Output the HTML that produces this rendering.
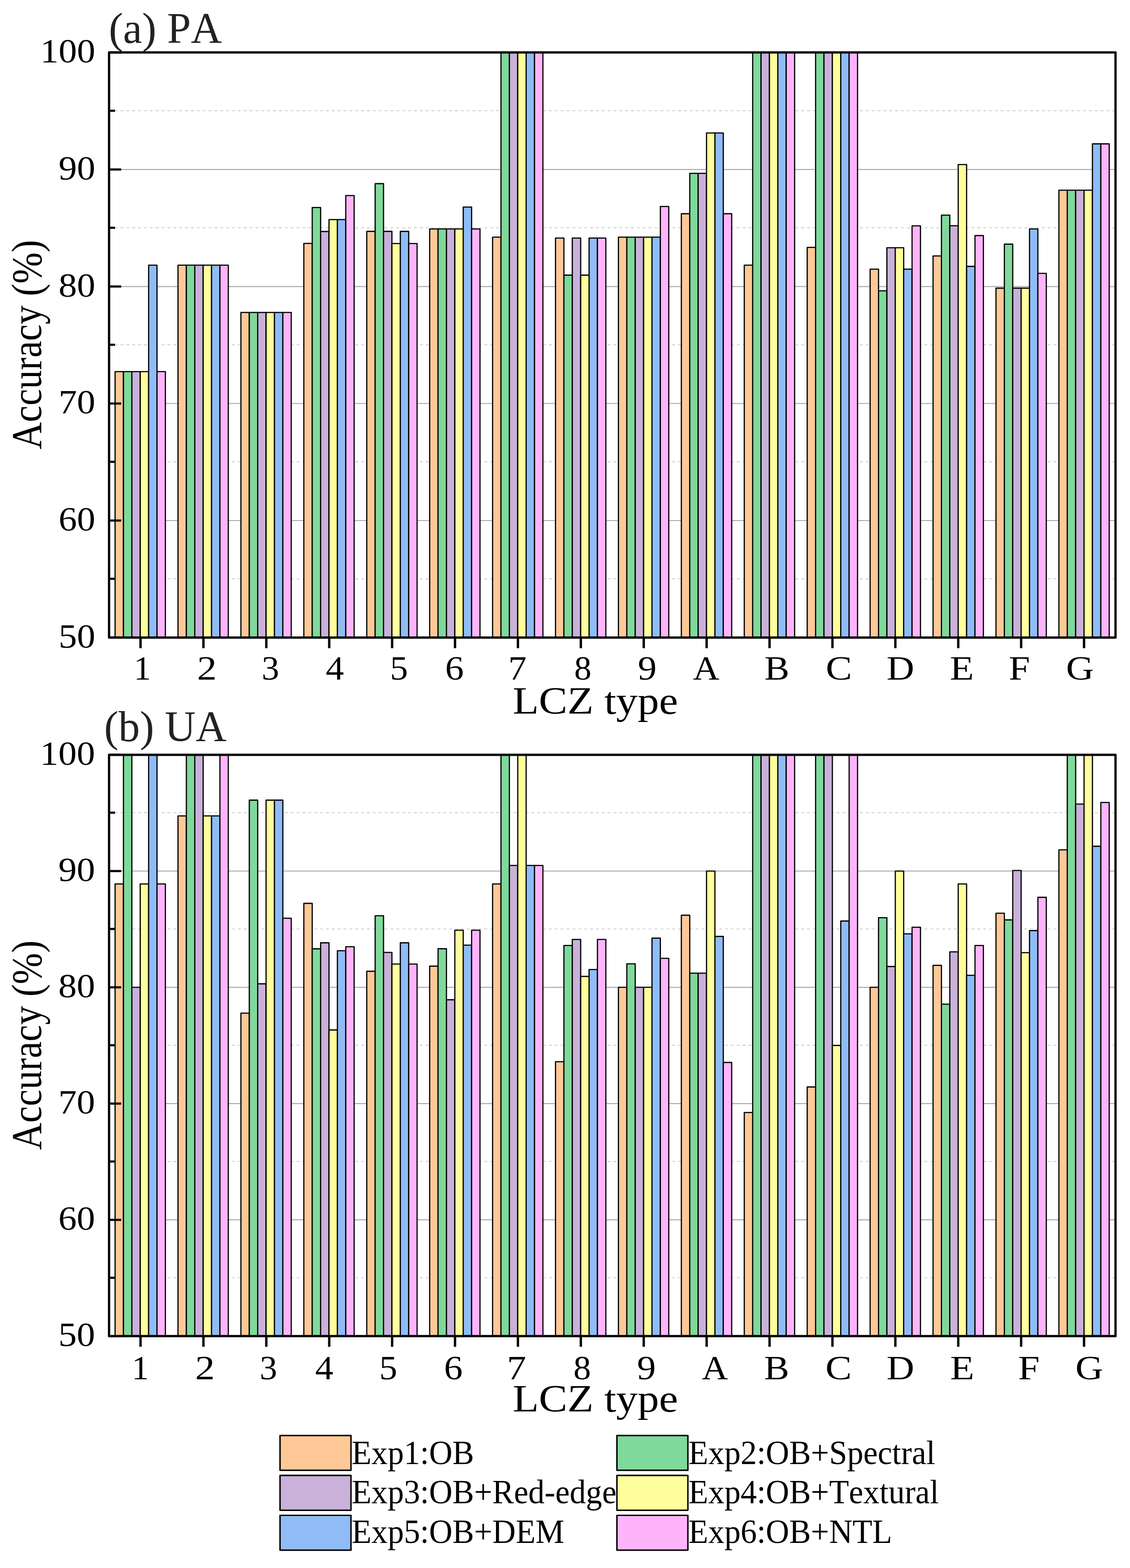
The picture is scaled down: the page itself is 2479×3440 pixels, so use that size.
<!DOCTYPE html>
<html lang="en"><head><meta charset="utf-8"><title>LCZ accuracy</title>
<style>html,body{margin:0;padding:0;background:#fff}body{width:2479px;height:3440px}svg{display:block}text{font-family:"Liberation Serif",serif;white-space:pre;font-kerning:none;font-variant-ligatures:none}</style></head><body>
<svg width="2479" height="3440" viewBox="0 0 2479 3440">
<rect width="2479" height="3440" fill="#fff"/>
<g id="panel-a"><line x1="239.25" x2="2447.2" y1="1141.98" y2="1141.98" stroke="#ababab" stroke-width="2.2"/>
<line x1="239.25" x2="2447.2" y1="885.26" y2="885.26" stroke="#ababab" stroke-width="2.2"/>
<line x1="239.25" x2="2447.2" y1="628.54" y2="628.54" stroke="#ababab" stroke-width="2.2"/>
<line x1="239.25" x2="2447.2" y1="371.82" y2="371.82" stroke="#ababab" stroke-width="2.2"/>
<line x1="238.55" x2="2447.2" y1="1269.84" y2="1269.84" stroke="#d2d2d2" stroke-width="2.2" stroke-dasharray="6.5 6.375"/>
<line x1="238.55" x2="2447.2" y1="1013.12" y2="1013.12" stroke="#d2d2d2" stroke-width="2.2" stroke-dasharray="6.5 6.375"/>
<line x1="238.55" x2="2447.2" y1="756.4" y2="756.4" stroke="#d2d2d2" stroke-width="2.2" stroke-dasharray="6.5 6.375"/>
<line x1="238.55" x2="2447.2" y1="499.68" y2="499.68" stroke="#d2d2d2" stroke-width="2.2" stroke-dasharray="6.5 6.375"/>
<line x1="238.55" x2="2447.2" y1="242.96" y2="242.96" stroke="#d2d2d2" stroke-width="2.2" stroke-dasharray="6.5 6.375"/>
<g stroke="#000" stroke-width="2.6" stroke-linejoin="round">
<rect x="252.45" y="815.18" width="18.4" height="583.52" fill="#fec897"/>
<rect x="270.85" y="815.18" width="18.4" height="583.52" fill="#7fd99b"/>
<rect x="289.25" y="815.18" width="18.4" height="583.52" fill="#c9b1d9"/>
<rect x="307.65" y="815.18" width="18.4" height="583.52" fill="#fffe9c"/>
<rect x="326.05" y="581.82" width="18.4" height="816.88" fill="#8fbcf6"/>
<rect x="344.45" y="815.18" width="18.4" height="583.52" fill="#feb4fb"/>
<rect x="390.49" y="581.82" width="18.4" height="816.88" fill="#fec897"/>
<rect x="408.89" y="581.82" width="18.4" height="816.88" fill="#7fd99b"/>
<rect x="427.29" y="581.82" width="18.4" height="816.88" fill="#c9b1d9"/>
<rect x="445.69" y="581.82" width="18.4" height="816.88" fill="#fffe9c"/>
<rect x="464.08" y="581.82" width="18.4" height="816.88" fill="#8fbcf6"/>
<rect x="482.48" y="581.82" width="18.4" height="816.88" fill="#feb4fb"/>
<rect x="528.52" y="685.53" width="18.4" height="713.17" fill="#fec897"/>
<rect x="546.92" y="685.53" width="18.4" height="713.17" fill="#7fd99b"/>
<rect x="565.32" y="685.53" width="18.4" height="713.17" fill="#c9b1d9"/>
<rect x="583.72" y="685.53" width="18.4" height="713.17" fill="#fffe9c"/>
<rect x="602.12" y="685.53" width="18.4" height="713.17" fill="#8fbcf6"/>
<rect x="620.52" y="685.53" width="18.4" height="713.17" fill="#feb4fb"/>
<rect x="666.56" y="534.07" width="18.4" height="864.63" fill="#fec897"/>
<rect x="684.96" y="455.25" width="18.4" height="943.45" fill="#7fd99b"/>
<rect x="703.36" y="507.88" width="18.4" height="890.82" fill="#c9b1d9"/>
<rect x="721.76" y="481.7" width="18.4" height="917" fill="#fffe9c"/>
<rect x="740.16" y="481.7" width="18.4" height="917" fill="#8fbcf6"/>
<rect x="758.56" y="429.07" width="18.4" height="969.63" fill="#feb4fb"/>
<rect x="804.6" y="507.62" width="18.4" height="891.08" fill="#fec897"/>
<rect x="823" y="402.88" width="18.4" height="995.82" fill="#7fd99b"/>
<rect x="841.4" y="507.62" width="18.4" height="891.08" fill="#c9b1d9"/>
<rect x="859.8" y="534.32" width="18.4" height="864.38" fill="#fffe9c"/>
<rect x="878.2" y="507.62" width="18.4" height="891.08" fill="#8fbcf6"/>
<rect x="896.6" y="534.32" width="18.4" height="864.38" fill="#feb4fb"/>
<rect x="942.63" y="502.23" width="18.4" height="896.47" fill="#fec897"/>
<rect x="961.03" y="502.23" width="18.4" height="896.47" fill="#7fd99b"/>
<rect x="979.43" y="502.23" width="18.4" height="896.47" fill="#c9b1d9"/>
<rect x="997.83" y="502.23" width="18.4" height="896.47" fill="#fffe9c"/>
<rect x="1016.23" y="454.23" width="18.4" height="944.47" fill="#8fbcf6"/>
<rect x="1034.63" y="502.23" width="18.4" height="896.47" fill="#feb4fb"/>
<rect x="1080.67" y="520.2" width="18.4" height="878.5" fill="#fec897"/>
<rect x="1099.07" y="115.1" width="18.4" height="1283.6" fill="#7fd99b"/>
<rect x="1117.47" y="115.1" width="18.4" height="1283.6" fill="#c9b1d9"/>
<rect x="1135.87" y="115.1" width="18.4" height="1283.6" fill="#fffe9c"/>
<rect x="1154.27" y="115.1" width="18.4" height="1283.6" fill="#8fbcf6"/>
<rect x="1172.67" y="115.1" width="18.4" height="1283.6" fill="#feb4fb"/>
<rect x="1218.71" y="522.26" width="18.4" height="876.44" fill="#fec897"/>
<rect x="1237.11" y="603.64" width="18.4" height="795.06" fill="#7fd99b"/>
<rect x="1255.51" y="522.26" width="18.4" height="876.44" fill="#c9b1d9"/>
<rect x="1273.91" y="603.64" width="18.4" height="795.06" fill="#fffe9c"/>
<rect x="1292.31" y="522.26" width="18.4" height="876.44" fill="#8fbcf6"/>
<rect x="1310.71" y="522.26" width="18.4" height="876.44" fill="#feb4fb"/>
<rect x="1356.74" y="520.2" width="18.4" height="878.5" fill="#fec897"/>
<rect x="1375.14" y="520.2" width="18.4" height="878.5" fill="#7fd99b"/>
<rect x="1393.54" y="520.2" width="18.4" height="878.5" fill="#c9b1d9"/>
<rect x="1411.94" y="520.2" width="18.4" height="878.5" fill="#fffe9c"/>
<rect x="1430.34" y="520.2" width="18.4" height="878.5" fill="#8fbcf6"/>
<rect x="1448.74" y="452.94" width="18.4" height="945.76" fill="#feb4fb"/>
<rect x="1494.78" y="468.86" width="18.4" height="929.84" fill="#fec897"/>
<rect x="1513.18" y="380.29" width="18.4" height="1018.41" fill="#7fd99b"/>
<rect x="1531.58" y="380.29" width="18.4" height="1018.41" fill="#c9b1d9"/>
<rect x="1549.98" y="291.72" width="18.4" height="1106.98" fill="#fffe9c"/>
<rect x="1568.38" y="291.72" width="18.4" height="1106.98" fill="#8fbcf6"/>
<rect x="1586.78" y="468.86" width="18.4" height="929.84" fill="#feb4fb"/>
<rect x="1632.82" y="581.82" width="18.4" height="816.88" fill="#fec897"/>
<rect x="1651.22" y="115.1" width="18.4" height="1283.6" fill="#7fd99b"/>
<rect x="1669.62" y="115.1" width="18.4" height="1283.6" fill="#c9b1d9"/>
<rect x="1688.02" y="115.1" width="18.4" height="1283.6" fill="#fffe9c"/>
<rect x="1706.42" y="115.1" width="18.4" height="1283.6" fill="#8fbcf6"/>
<rect x="1724.82" y="115.1" width="18.4" height="1283.6" fill="#feb4fb"/>
<rect x="1770.86" y="542.8" width="18.4" height="855.9" fill="#fec897"/>
<rect x="1789.25" y="115.1" width="18.4" height="1283.6" fill="#7fd99b"/>
<rect x="1807.65" y="115.1" width="18.4" height="1283.6" fill="#c9b1d9"/>
<rect x="1826.05" y="115.1" width="18.4" height="1283.6" fill="#fffe9c"/>
<rect x="1844.45" y="115.1" width="18.4" height="1283.6" fill="#8fbcf6"/>
<rect x="1862.85" y="115.1" width="18.4" height="1283.6" fill="#feb4fb"/>
<rect x="1908.89" y="590.55" width="18.4" height="808.15" fill="#fec897"/>
<rect x="1927.29" y="638.04" width="18.4" height="760.66" fill="#7fd99b"/>
<rect x="1945.69" y="543.57" width="18.4" height="855.13" fill="#c9b1d9"/>
<rect x="1964.09" y="543.57" width="18.4" height="855.13" fill="#fffe9c"/>
<rect x="1982.49" y="590.55" width="18.4" height="808.15" fill="#8fbcf6"/>
<rect x="2000.89" y="495.56" width="18.4" height="903.14" fill="#feb4fb"/>
<rect x="2046.93" y="561.54" width="18.4" height="837.16" fill="#fec897"/>
<rect x="2065.33" y="471.94" width="18.4" height="926.76" fill="#7fd99b"/>
<rect x="2083.73" y="495.3" width="18.4" height="903.4" fill="#c9b1d9"/>
<rect x="2102.13" y="361.04" width="18.4" height="1037.66" fill="#fffe9c"/>
<rect x="2120.53" y="584.38" width="18.4" height="814.32" fill="#8fbcf6"/>
<rect x="2138.93" y="516.87" width="18.4" height="881.83" fill="#feb4fb"/>
<rect x="2184.97" y="632.13" width="18.4" height="766.57" fill="#fec897"/>
<rect x="2203.37" y="535.61" width="18.4" height="863.09" fill="#7fd99b"/>
<rect x="2221.77" y="632.13" width="18.4" height="766.57" fill="#c9b1d9"/>
<rect x="2240.16" y="632.13" width="18.4" height="766.57" fill="#fffe9c"/>
<rect x="2258.56" y="502.23" width="18.4" height="896.47" fill="#8fbcf6"/>
<rect x="2276.96" y="599.79" width="18.4" height="798.91" fill="#feb4fb"/>
<rect x="2323" y="417.26" width="18.4" height="981.44" fill="#fec897"/>
<rect x="2341.4" y="417.26" width="18.4" height="981.44" fill="#7fd99b"/>
<rect x="2359.8" y="417.26" width="18.4" height="981.44" fill="#c9b1d9"/>
<rect x="2378.2" y="417.26" width="18.4" height="981.44" fill="#fffe9c"/>
<rect x="2396.6" y="315.6" width="18.4" height="1083.1" fill="#8fbcf6"/>
<rect x="2415" y="315.6" width="18.4" height="1083.1" fill="#feb4fb"/>
</g>
<g stroke="#000" stroke-width="4.7">
<line x1="239.25" x2="265.85" y1="1398.7" y2="1398.7"/>
<line x1="239.25" x2="252.25" y1="1269.84" y2="1269.84"/>
<line x1="239.25" x2="265.85" y1="1141.98" y2="1141.98"/>
<line x1="239.25" x2="252.25" y1="1013.12" y2="1013.12"/>
<line x1="239.25" x2="265.85" y1="885.26" y2="885.26"/>
<line x1="239.25" x2="252.25" y1="756.4" y2="756.4"/>
<line x1="239.25" x2="265.85" y1="628.54" y2="628.54"/>
<line x1="239.25" x2="252.25" y1="499.68" y2="499.68"/>
<line x1="239.25" x2="265.85" y1="371.82" y2="371.82"/>
<line x1="239.25" x2="252.25" y1="242.96" y2="242.96"/>
<line x1="239.25" x2="265.85" y1="115.1" y2="115.1"/>
<line x1="308.25" x2="308.25" y1="1398.7" y2="1422.1" stroke-width="5.2"/>
<line x1="446.25" x2="446.25" y1="1398.7" y2="1422.1" stroke-width="5.2"/>
<line x1="584.24" x2="584.24" y1="1398.7" y2="1422.1" stroke-width="5.2"/>
<line x1="722.24" x2="722.24" y1="1398.7" y2="1422.1" stroke-width="5.2"/>
<line x1="860.24" x2="860.24" y1="1398.7" y2="1422.1" stroke-width="5.2"/>
<line x1="998.23" x2="998.23" y1="1398.7" y2="1422.1" stroke-width="5.2"/>
<line x1="1136.23" x2="1136.23" y1="1398.7" y2="1422.1" stroke-width="5.2"/>
<line x1="1274.23" x2="1274.23" y1="1398.7" y2="1422.1" stroke-width="5.2"/>
<line x1="1412.22" x2="1412.22" y1="1398.7" y2="1422.1" stroke-width="5.2"/>
<line x1="1550.22" x2="1550.22" y1="1398.7" y2="1422.1" stroke-width="5.2"/>
<line x1="1688.22" x2="1688.22" y1="1398.7" y2="1422.1" stroke-width="5.2"/>
<line x1="1826.21" x2="1826.21" y1="1398.7" y2="1422.1" stroke-width="5.2"/>
<line x1="1964.21" x2="1964.21" y1="1398.7" y2="1422.1" stroke-width="5.2"/>
<line x1="2102.21" x2="2102.21" y1="1398.7" y2="1422.1" stroke-width="5.2"/>
<line x1="2240.2" x2="2240.2" y1="1398.7" y2="1422.1" stroke-width="5.2"/>
<line x1="2378.2" x2="2378.2" y1="1398.7" y2="1422.1" stroke-width="5.2"/>
</g>
<rect x="239.25" y="115.1" width="2207.95" height="1283.6" fill="none" stroke="#000" stroke-width="5.0" stroke-linejoin="round"/>
<text transform="translate(128.51 1420.7) scale(1.09 1)" font-size="74" fill="#000">50</text>
<text transform="translate(128.51 1163.98) scale(1.09 1)" font-size="74" fill="#000">60</text>
<text transform="translate(128.51 907.26) scale(1.09 1)" font-size="74" fill="#000">70</text>
<text transform="translate(128.51 650.54) scale(1.09 1)" font-size="74" fill="#000">80</text>
<text transform="translate(128.51 393.82) scale(1.09 1)" font-size="74" fill="#000">90</text>
<text transform="translate(88.18 137.1) scale(1.09 1)" font-size="74" fill="#000">100</text>
<text transform="translate(293.43 1490.8) scale(1.02 1)" font-size="74" fill="#000">1</text>
<text transform="translate(432.14 1490.8) scale(1.17 1)" font-size="74" fill="#000">2</text>
<text transform="translate(573.92 1490.8) scale(1.0403 1)" font-size="74" fill="#000">3</text>
<text transform="translate(714.85 1490.8) scale(1.0756 1)" font-size="74" fill="#000">4</text>
<text transform="translate(855.41 1490.8) scale(1.0668 1)" font-size="74" fill="#000">5</text>
<text transform="translate(976.38 1490.8) scale(1.107 1)" font-size="74" fill="#000">6</text>
<text transform="translate(1115.1 1490.8) scale(1.087 1)" font-size="74" fill="#000">7</text>
<text transform="translate(1259.68 1490.8) scale(1.02 1)" font-size="74" fill="#000">8</text>
<text transform="translate(1399.13 1490.8) scale(1.1178 1)" font-size="74" fill="#000">9</text>
<text transform="translate(1520.32 1490.8) scale(1.0829 1)" font-size="74" fill="#000">A</text>
<text transform="translate(1677.04 1490.8) scale(1.1075 1)" font-size="74" fill="#000">B</text>
<text transform="translate(1811.55 1490.8) scale(1.1695 1)" font-size="74" fill="#000">C</text>
<text transform="translate(1944.98 1490.8) scale(1.1356 1)" font-size="74" fill="#000">D</text>
<text transform="translate(2083.71 1490.8) scale(1.168 1)" font-size="74" fill="#000">E</text>
<text transform="translate(2212.98 1490.8) scale(1.1334 1)" font-size="74" fill="#000">F</text>
<text transform="translate(2338.74 1490.8) scale(1.1415 1)" font-size="74" fill="#000">G</text>
<text transform="translate(1124.69 1566) scale(1.1187 1)" font-size="84" fill="#000">LCZ type</text>
<text transform="translate(90.2 985.8) rotate(-90) scale(0.989 1.13)" font-size="83.3" fill="#000">Accuracy (%)</text>
<text transform="translate(238.67 93.8) scale(0.988 1)" font-size="95.1" fill="#222">(a) PA</text></g>
<g id="panel-b"><line x1="239.25" x2="2447.2" y1="2676.22" y2="2676.22" stroke="#ababab" stroke-width="2.2"/>
<line x1="239.25" x2="2447.2" y1="2421.14" y2="2421.14" stroke="#ababab" stroke-width="2.2"/>
<line x1="239.25" x2="2447.2" y1="2166.06" y2="2166.06" stroke="#ababab" stroke-width="2.2"/>
<line x1="239.25" x2="2447.2" y1="1910.98" y2="1910.98" stroke="#ababab" stroke-width="2.2"/>
<line x1="238.55" x2="2447.2" y1="2803.26" y2="2803.26" stroke="#d2d2d2" stroke-width="2.2" stroke-dasharray="6.5 6.375"/>
<line x1="238.55" x2="2447.2" y1="2548.18" y2="2548.18" stroke="#d2d2d2" stroke-width="2.2" stroke-dasharray="6.5 6.375"/>
<line x1="238.55" x2="2447.2" y1="2293.1" y2="2293.1" stroke="#d2d2d2" stroke-width="2.2" stroke-dasharray="6.5 6.375"/>
<line x1="238.55" x2="2447.2" y1="2038.02" y2="2038.02" stroke="#d2d2d2" stroke-width="2.2" stroke-dasharray="6.5 6.375"/>
<line x1="238.55" x2="2447.2" y1="1782.94" y2="1782.94" stroke="#d2d2d2" stroke-width="2.2" stroke-dasharray="6.5 6.375"/>
<g stroke="#000" stroke-width="2.6" stroke-linejoin="round">
<rect x="252.45" y="1939.29" width="18.4" height="992.01" fill="#fec897"/>
<rect x="270.85" y="1655.9" width="18.4" height="1275.4" fill="#7fd99b"/>
<rect x="289.25" y="2166.06" width="18.4" height="765.24" fill="#c9b1d9"/>
<rect x="307.65" y="1939.29" width="18.4" height="992.01" fill="#fffe9c"/>
<rect x="326.05" y="1655.9" width="18.4" height="1275.4" fill="#8fbcf6"/>
<rect x="344.45" y="1939.29" width="18.4" height="992.01" fill="#feb4fb"/>
<rect x="390.49" y="1790.07" width="18.4" height="1141.23" fill="#fec897"/>
<rect x="408.89" y="1655.9" width="18.4" height="1275.4" fill="#7fd99b"/>
<rect x="427.29" y="1655.9" width="18.4" height="1275.4" fill="#c9b1d9"/>
<rect x="445.69" y="1790.07" width="18.4" height="1141.23" fill="#fffe9c"/>
<rect x="464.08" y="1790.07" width="18.4" height="1141.23" fill="#8fbcf6"/>
<rect x="482.48" y="1655.9" width="18.4" height="1275.4" fill="#feb4fb"/>
<rect x="528.52" y="2222.69" width="18.4" height="708.61" fill="#fec897"/>
<rect x="546.92" y="1755.38" width="18.4" height="1175.92" fill="#7fd99b"/>
<rect x="565.32" y="2158.41" width="18.4" height="772.89" fill="#c9b1d9"/>
<rect x="583.72" y="1755.38" width="18.4" height="1175.92" fill="#fffe9c"/>
<rect x="602.12" y="1755.38" width="18.4" height="1175.92" fill="#8fbcf6"/>
<rect x="620.52" y="2014.54" width="18.4" height="916.76" fill="#feb4fb"/>
<rect x="666.56" y="1981.89" width="18.4" height="949.41" fill="#fec897"/>
<rect x="684.96" y="2081.63" width="18.4" height="849.67" fill="#7fd99b"/>
<rect x="703.36" y="2068.36" width="18.4" height="862.94" fill="#c9b1d9"/>
<rect x="721.76" y="2259.67" width="18.4" height="671.63" fill="#fffe9c"/>
<rect x="740.16" y="2085.71" width="18.4" height="845.59" fill="#8fbcf6"/>
<rect x="758.56" y="2077.04" width="18.4" height="854.26" fill="#feb4fb"/>
<rect x="804.6" y="2130.86" width="18.4" height="800.44" fill="#fec897"/>
<rect x="823" y="2008.93" width="18.4" height="922.37" fill="#7fd99b"/>
<rect x="841.4" y="2089.54" width="18.4" height="841.76" fill="#c9b1d9"/>
<rect x="859.8" y="2115.04" width="18.4" height="816.26" fill="#fffe9c"/>
<rect x="878.2" y="2068.36" width="18.4" height="862.94" fill="#8fbcf6"/>
<rect x="896.6" y="2115.04" width="18.4" height="816.26" fill="#feb4fb"/>
<rect x="942.63" y="2119.64" width="18.4" height="811.66" fill="#fec897"/>
<rect x="961.03" y="2081.37" width="18.4" height="849.93" fill="#7fd99b"/>
<rect x="979.43" y="2193.35" width="18.4" height="737.95" fill="#c9b1d9"/>
<rect x="997.83" y="2040.82" width="18.4" height="890.48" fill="#fffe9c"/>
<rect x="1016.23" y="2073.47" width="18.4" height="857.83" fill="#8fbcf6"/>
<rect x="1034.63" y="2040.82" width="18.4" height="890.48" fill="#feb4fb"/>
<rect x="1080.67" y="1939.29" width="18.4" height="992.01" fill="#fec897"/>
<rect x="1099.07" y="1655.9" width="18.4" height="1275.4" fill="#7fd99b"/>
<rect x="1117.47" y="1898.74" width="18.4" height="1032.56" fill="#c9b1d9"/>
<rect x="1135.87" y="1655.9" width="18.4" height="1275.4" fill="#fffe9c"/>
<rect x="1154.27" y="1898.74" width="18.4" height="1032.56" fill="#8fbcf6"/>
<rect x="1172.67" y="1898.74" width="18.4" height="1032.56" fill="#feb4fb"/>
<rect x="1218.71" y="2329.31" width="18.4" height="601.99" fill="#fec897"/>
<rect x="1237.11" y="2074.23" width="18.4" height="857.07" fill="#7fd99b"/>
<rect x="1255.51" y="2060.97" width="18.4" height="870.33" fill="#c9b1d9"/>
<rect x="1273.91" y="2142.08" width="18.4" height="789.22" fill="#fffe9c"/>
<rect x="1292.31" y="2127.03" width="18.4" height="804.27" fill="#8fbcf6"/>
<rect x="1310.71" y="2060.97" width="18.4" height="870.33" fill="#feb4fb"/>
<rect x="1356.74" y="2166.06" width="18.4" height="765.24" fill="#fec897"/>
<rect x="1375.14" y="2114.53" width="18.4" height="816.77" fill="#7fd99b"/>
<rect x="1393.54" y="2166.06" width="18.4" height="765.24" fill="#c9b1d9"/>
<rect x="1411.94" y="2166.06" width="18.4" height="765.24" fill="#fffe9c"/>
<rect x="1430.34" y="2058.16" width="18.4" height="873.14" fill="#8fbcf6"/>
<rect x="1448.74" y="2102.55" width="18.4" height="828.75" fill="#feb4fb"/>
<rect x="1494.78" y="2007.91" width="18.4" height="923.39" fill="#fec897"/>
<rect x="1513.18" y="2134.94" width="18.4" height="796.36" fill="#7fd99b"/>
<rect x="1531.58" y="2134.94" width="18.4" height="796.36" fill="#c9b1d9"/>
<rect x="1549.98" y="1910.98" width="18.4" height="1020.32" fill="#fffe9c"/>
<rect x="1568.38" y="2054.33" width="18.4" height="876.97" fill="#8fbcf6"/>
<rect x="1586.78" y="2330.84" width="18.4" height="600.46" fill="#feb4fb"/>
<rect x="1632.82" y="2440.78" width="18.4" height="490.52" fill="#fec897"/>
<rect x="1651.22" y="1655.9" width="18.4" height="1275.4" fill="#7fd99b"/>
<rect x="1669.62" y="1655.9" width="18.4" height="1275.4" fill="#c9b1d9"/>
<rect x="1688.02" y="1655.9" width="18.4" height="1275.4" fill="#fffe9c"/>
<rect x="1706.42" y="1655.9" width="18.4" height="1275.4" fill="#8fbcf6"/>
<rect x="1724.82" y="1655.9" width="18.4" height="1275.4" fill="#feb4fb"/>
<rect x="1770.86" y="2384.66" width="18.4" height="546.64" fill="#fec897"/>
<rect x="1789.25" y="1655.9" width="18.4" height="1275.4" fill="#7fd99b"/>
<rect x="1807.65" y="1655.9" width="18.4" height="1275.4" fill="#c9b1d9"/>
<rect x="1826.05" y="2293.6" width="18.4" height="637.7" fill="#fffe9c"/>
<rect x="1844.45" y="2020.66" width="18.4" height="910.64" fill="#8fbcf6"/>
<rect x="1862.85" y="1655.9" width="18.4" height="1275.4" fill="#feb4fb"/>
<rect x="1908.89" y="2166.06" width="18.4" height="765.24" fill="#fec897"/>
<rect x="1927.29" y="2013.27" width="18.4" height="918.03" fill="#7fd99b"/>
<rect x="1945.69" y="2120.4" width="18.4" height="810.9" fill="#c9b1d9"/>
<rect x="1964.09" y="1910.98" width="18.4" height="1020.32" fill="#fffe9c"/>
<rect x="1982.49" y="2048.72" width="18.4" height="882.58" fill="#8fbcf6"/>
<rect x="2000.89" y="2034.18" width="18.4" height="897.12" fill="#feb4fb"/>
<rect x="2046.93" y="2117.85" width="18.4" height="813.45" fill="#fec897"/>
<rect x="2065.33" y="2203.05" width="18.4" height="728.25" fill="#7fd99b"/>
<rect x="2083.73" y="2088.26" width="18.4" height="843.04" fill="#c9b1d9"/>
<rect x="2102.13" y="1939.29" width="18.4" height="992.01" fill="#fffe9c"/>
<rect x="2120.53" y="2139.79" width="18.4" height="791.51" fill="#8fbcf6"/>
<rect x="2138.93" y="2074.23" width="18.4" height="857.07" fill="#feb4fb"/>
<rect x="2184.97" y="2003.57" width="18.4" height="927.73" fill="#fec897"/>
<rect x="2203.37" y="2018.11" width="18.4" height="913.19" fill="#7fd99b"/>
<rect x="2221.77" y="1909.7" width="18.4" height="1021.6" fill="#c9b1d9"/>
<rect x="2240.16" y="2090.05" width="18.4" height="841.25" fill="#fffe9c"/>
<rect x="2258.56" y="2041.58" width="18.4" height="889.72" fill="#8fbcf6"/>
<rect x="2276.96" y="1968.63" width="18.4" height="962.67" fill="#feb4fb"/>
<rect x="2323" y="1864.56" width="18.4" height="1066.74" fill="#fec897"/>
<rect x="2341.4" y="1655.9" width="18.4" height="1275.4" fill="#7fd99b"/>
<rect x="2359.8" y="1764.05" width="18.4" height="1167.25" fill="#c9b1d9"/>
<rect x="2378.2" y="1655.9" width="18.4" height="1275.4" fill="#fffe9c"/>
<rect x="2396.6" y="1856.65" width="18.4" height="1074.65" fill="#8fbcf6"/>
<rect x="2415" y="1760.48" width="18.4" height="1170.82" fill="#feb4fb"/>
</g>
<g stroke="#000" stroke-width="4.7">
<line x1="239.25" x2="265.85" y1="2931.3" y2="2931.3"/>
<line x1="239.25" x2="252.25" y1="2803.26" y2="2803.26"/>
<line x1="239.25" x2="265.85" y1="2676.22" y2="2676.22"/>
<line x1="239.25" x2="252.25" y1="2548.18" y2="2548.18"/>
<line x1="239.25" x2="265.85" y1="2421.14" y2="2421.14"/>
<line x1="239.25" x2="252.25" y1="2293.1" y2="2293.1"/>
<line x1="239.25" x2="265.85" y1="2166.06" y2="2166.06"/>
<line x1="239.25" x2="252.25" y1="2038.02" y2="2038.02"/>
<line x1="239.25" x2="265.85" y1="1910.98" y2="1910.98"/>
<line x1="239.25" x2="252.25" y1="1782.94" y2="1782.94"/>
<line x1="239.25" x2="265.85" y1="1655.9" y2="1655.9"/>
<line x1="308.25" x2="308.25" y1="2931.3" y2="2954.7" stroke-width="5.2"/>
<line x1="446.25" x2="446.25" y1="2931.3" y2="2954.7" stroke-width="5.2"/>
<line x1="584.24" x2="584.24" y1="2931.3" y2="2954.7" stroke-width="5.2"/>
<line x1="722.24" x2="722.24" y1="2931.3" y2="2954.7" stroke-width="5.2"/>
<line x1="860.24" x2="860.24" y1="2931.3" y2="2954.7" stroke-width="5.2"/>
<line x1="998.23" x2="998.23" y1="2931.3" y2="2954.7" stroke-width="5.2"/>
<line x1="1136.23" x2="1136.23" y1="2931.3" y2="2954.7" stroke-width="5.2"/>
<line x1="1274.23" x2="1274.23" y1="2931.3" y2="2954.7" stroke-width="5.2"/>
<line x1="1412.22" x2="1412.22" y1="2931.3" y2="2954.7" stroke-width="5.2"/>
<line x1="1550.22" x2="1550.22" y1="2931.3" y2="2954.7" stroke-width="5.2"/>
<line x1="1688.22" x2="1688.22" y1="2931.3" y2="2954.7" stroke-width="5.2"/>
<line x1="1826.21" x2="1826.21" y1="2931.3" y2="2954.7" stroke-width="5.2"/>
<line x1="1964.21" x2="1964.21" y1="2931.3" y2="2954.7" stroke-width="5.2"/>
<line x1="2102.21" x2="2102.21" y1="2931.3" y2="2954.7" stroke-width="5.2"/>
<line x1="2240.2" x2="2240.2" y1="2931.3" y2="2954.7" stroke-width="5.2"/>
<line x1="2378.2" x2="2378.2" y1="2931.3" y2="2954.7" stroke-width="5.2"/>
</g>
<rect x="239.25" y="1655.9" width="2207.95" height="1275.4" fill="none" stroke="#000" stroke-width="5.0" stroke-linejoin="round"/>
<text transform="translate(128.01 2953.3) scale(1.09 1)" font-size="74" fill="#000">50</text>
<text transform="translate(128.01 2698.22) scale(1.09 1)" font-size="74" fill="#000">60</text>
<text transform="translate(128.01 2443.14) scale(1.09 1)" font-size="74" fill="#000">70</text>
<text transform="translate(128.01 2188.06) scale(1.09 1)" font-size="74" fill="#000">80</text>
<text transform="translate(128.01 1932.98) scale(1.09 1)" font-size="74" fill="#000">90</text>
<text transform="translate(87.68 1677.9) scale(1.09 1)" font-size="74" fill="#000">100</text>
<text transform="translate(288.98 3026) scale(1.02 1)" font-size="74" fill="#000">1</text>
<text transform="translate(427.89 3026) scale(1.17 1)" font-size="74" fill="#000">2</text>
<text transform="translate(569.74 3026) scale(1.0337 1)" font-size="74" fill="#000">3</text>
<text transform="translate(691.45 3026) scale(1.0756 1)" font-size="74" fill="#000">4</text>
<text transform="translate(832.11 3026) scale(1.0668 1)" font-size="74" fill="#000">5</text>
<text transform="translate(973.98 3026) scale(1.107 1)" font-size="74" fill="#000">6</text>
<text transform="translate(1112.12 3026) scale(1.1437 1)" font-size="74" fill="#000">7</text>
<text transform="translate(1257.97 3026) scale(1.0394 1)" font-size="74" fill="#000">8</text>
<text transform="translate(1397.43 3026) scale(1.1178 1)" font-size="74" fill="#000">9</text>
<text transform="translate(1539.83 3026) scale(1.0714 1)" font-size="74" fill="#000">A</text>
<text transform="translate(1676.32 3026) scale(1.1167 1)" font-size="74" fill="#000">B</text>
<text transform="translate(1810.69 3026) scale(1.17 1)" font-size="74" fill="#000">C</text>
<text transform="translate(1944.98 3026) scale(1.1356 1)" font-size="74" fill="#000">D</text>
<text transform="translate(2084.52 3026) scale(1.17 1)" font-size="74" fill="#000">E</text>
<text transform="translate(2233.55 3026) scale(1.1499 1)" font-size="74" fill="#000">F</text>
<text transform="translate(2359.34 3026) scale(1.1395 1)" font-size="74" fill="#000">G</text>
<text transform="translate(1124.69 3097.4) scale(1.1187 1)" font-size="84" fill="#000">LCZ type</text>
<text transform="translate(90.2 2522.7) rotate(-90) scale(0.989 1.13)" font-size="83.3" fill="#000">Accuracy (%)</text>
<text transform="translate(228.47 1626.3) scale(0.988 1)" font-size="95.1" fill="#222">(b) UA</text></g>
<g id="legend"><rect x="614.3" y="3149.3" width="155.7" height="76.4" fill="#fec897" stroke="#000" stroke-width="3.2" stroke-linejoin="round"/>
<text transform="translate(771.45 3211.6) scale(0.953 1)" font-size="74.6" fill="#000">Exp1:OB</text>
<rect x="1353.4" y="3149.3" width="155.7" height="76.4" fill="#7fd99b" stroke="#000" stroke-width="3.2" stroke-linejoin="round"/>
<text transform="translate(1510.25 3211.6) scale(0.953 1)" font-size="74.6" fill="#000">Exp2:OB+Spectral</text>
<rect x="614.3" y="3236.9" width="155.7" height="76.4" fill="#c9b1d9" stroke="#000" stroke-width="3.2" stroke-linejoin="round"/>
<text transform="translate(771.45 3298.3) scale(0.953 1)" font-size="74.6" fill="#000">Exp3:OB+Red-edge</text>
<rect x="1353.4" y="3236.9" width="155.7" height="76.4" fill="#fffe9c" stroke="#000" stroke-width="3.2" stroke-linejoin="round"/>
<text transform="translate(1510.25 3298.3) scale(0.953 1)" font-size="74.6" fill="#000">Exp4:OB+Textural</text>
<rect x="614.3" y="3324.5" width="155.7" height="76.4" fill="#8fbcf6" stroke="#000" stroke-width="3.2" stroke-linejoin="round"/>
<text transform="translate(771.45 3385.4) scale(0.953 1)" font-size="74.6" fill="#000">Exp5:OB+DEM</text>
<rect x="1353.4" y="3324.5" width="155.7" height="76.4" fill="#feb4fb" stroke="#000" stroke-width="3.2" stroke-linejoin="round"/>
<text transform="translate(1510.25 3385.4) scale(0.953 1)" font-size="74.6" fill="#000">Exp6:OB+NTL</text></g>
</svg></body></html>
